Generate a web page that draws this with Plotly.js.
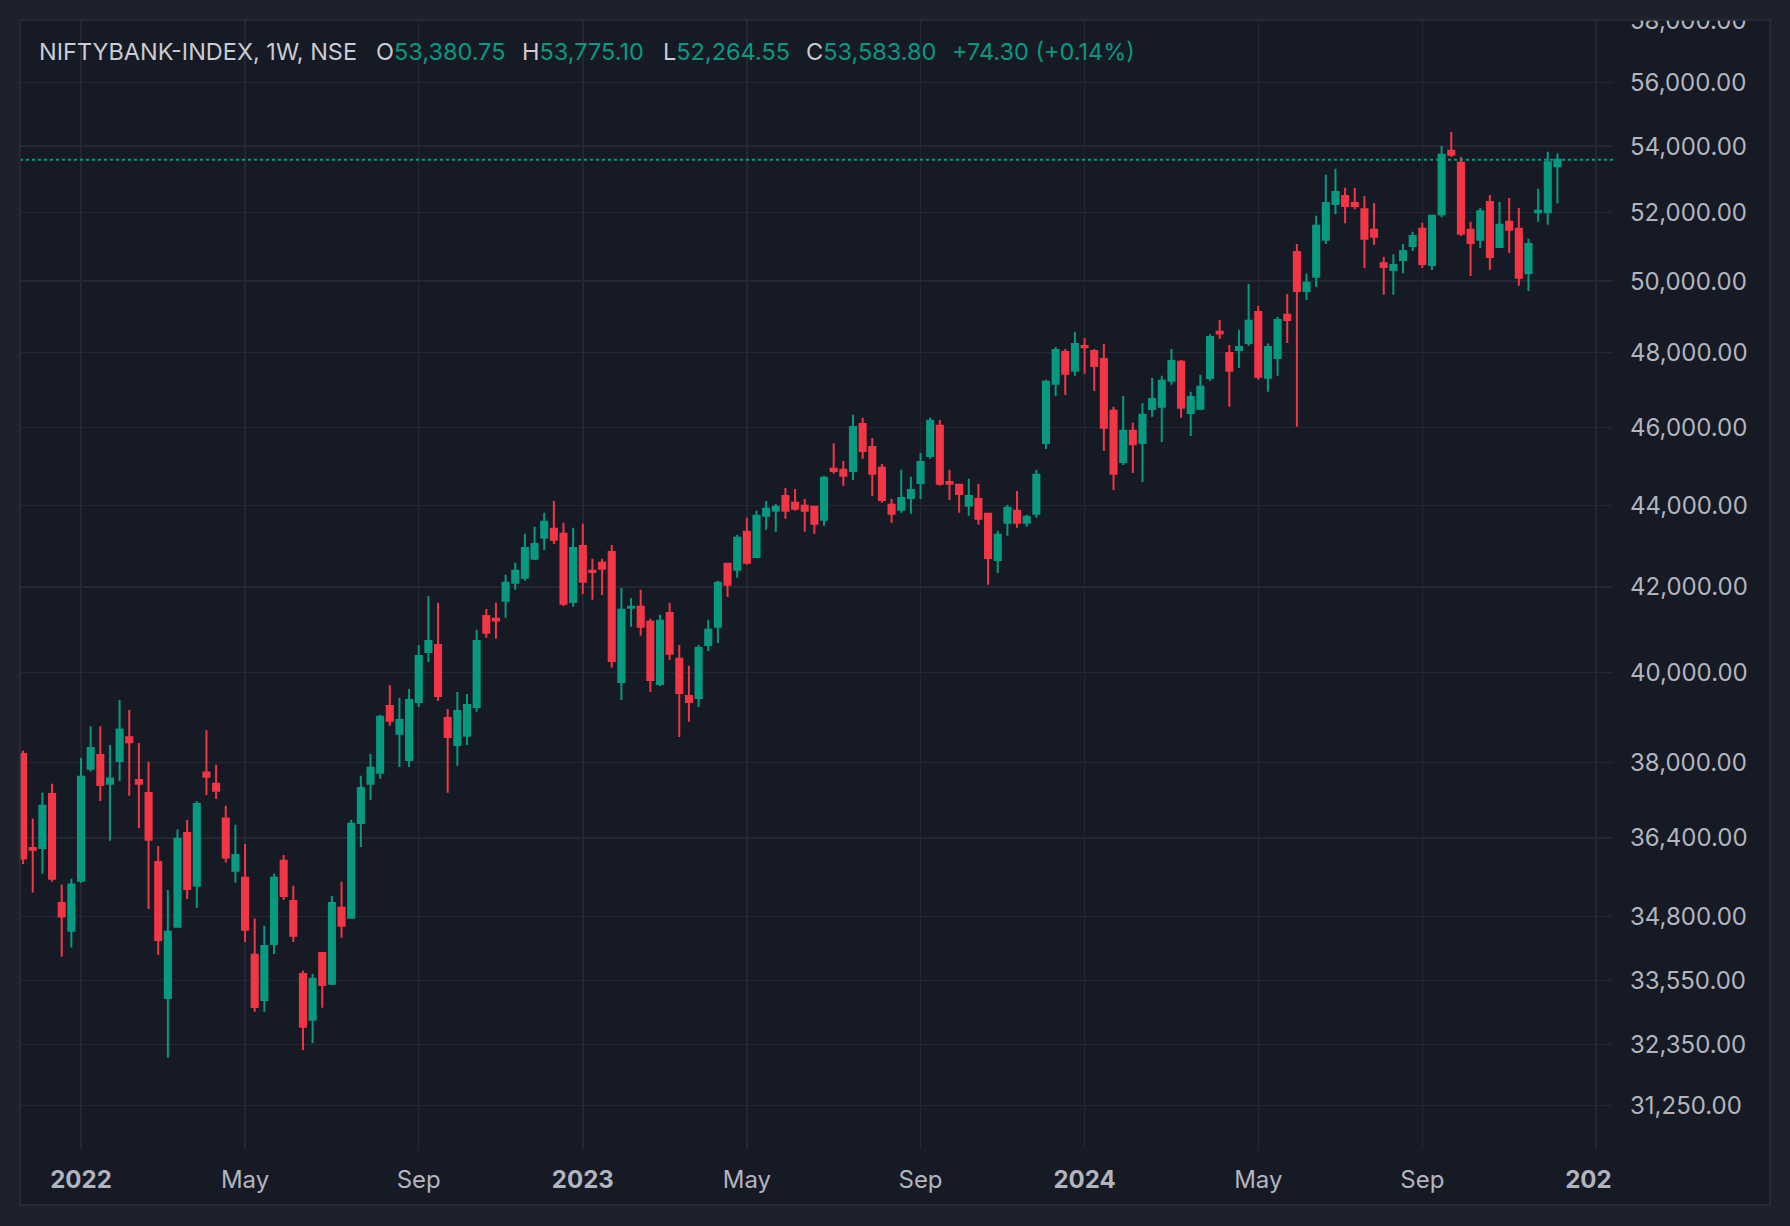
<!DOCTYPE html>
<html>
<head>
<meta charset="utf-8">
<script src="https://cdn.plot.ly/plotly-3.0.1.min.js"></script>
<style>
  html, body { margin: 0; padding: 0; background: #1e212b; }
  #chart { width: 1790px; height: 1226px; }
</style>
</head>
<body>
<div id="chart"></div>
<script>
// ---- Data (weekly bars, NIFTY BANK index) ----
const firstWeek = '2021-11-22';
const symbolText = 'NIFTYBANK-INDEX, 1W, NSE';

const openVals = [
  38180, 36190, 36190, 37320, 35070, 34520,
  35520, 37860, 38160, 37540, 38030, 38550, 37620, 37340, 35900, 33220,
  34600, 36500, 35415, 37780, 37540, 36800, 35720, 35580, 34050, 33185,
  34260, 35925, 35110, 33680, 32810, 34085, 33490, 34975, 34775, 36710,
  37540, 37775, 39240, 38625, 38050, 39330, 40470, 40630, 38975, 38375,
  38580, 39220, 41310, 41240, 41665, 42100, 42220, 42675, 43190, 43415,
  43290, 41640,
  42990, 42385, 42580, 42845, 39780, 41500, 41525, 41170, 39735, 41380,
  40310, 39465, 39420, 40630, 41055, 42555, 42410, 43340, 42720, 43740,
  43865, 44235, 44060, 43990, 43965, 43640, 44925, 44900, 44870, 46090,
  45485, 44950, 44010, 43890, 44185, 44565, 45255, 46040, 44590, 44515,
  43990, 44160, 43790, 42645, 43565, 43865, 43565, 43790, 45590, 47155,
  48020, 47505,
  48185, 48045, 47830, 46435, 45100, 45910, 45590, 46485, 46540, 47235,
  47750, 46380, 46487, 47315, 48575, 47990, 48075, 48265, 49130, 47320,
  47855, 49050, 50840, 49720, 50125, 51190, 52250, 52490, 52280, 52095,
  51485, 50515, 50320, 50605, 51010, 51515, 50460, 51945, 53855, 53490,
  51485, 51190, 52310, 50985, 51720, 51515, 50225, 52005, 52005, 53380.75
];
const highVals = [
  38250, 36800, 37345, 37540, 35440, 35560,
  38100, 38790, 38790, 38380, 39375, 39150, 38420, 38010, 36230, 35330,
  36570, 36775, 37170, 38700, 37950, 37070, 36670, 36270, 34760, 34620,
  35660, 36045, 35415, 33740, 33685, 34105, 35210, 35500, 36775, 37710,
  38180, 39045, 39710, 39420, 39620, 40630, 41780, 41620, 39175, 39555,
  39510, 40985, 41475, 41620, 42290, 42580, 43290, 43465, 43810, 44110,
  43565, 43440,
  43540, 42675, 42675, 43015, 41970, 41735, 41930, 41240, 41335, 41620,
  40630, 40150, 40630, 41220, 42145, 42560, 43265, 43690, 43865, 44110,
  44035, 44435, 44410, 44160, 43990, 44745, 45585, 45125, 46330, 46250,
  45720, 45050, 44160, 44900, 44720, 45330, 46250, 46195, 44900, 44520,
  44670, 44540, 43790, 43365, 44010, 44360, 43765, 44900, 47265, 48155,
  48100, 48575,
  48405, 48100, 48240, 46540, 46830, 46120, 46645, 47320, 47370, 48100,
  47800, 46940, 47400, 48510, 48905, 48210, 48630, 49915, 49300, 48250,
  48990, 49635, 51070, 50210, 51895, 53125, 53310, 52735, 52735, 52490,
  52280, 50690, 50775, 51070, 51425, 51690, 51925, 54005, 54445, 53670,
  51720, 52125, 52520, 52310, 52430, 52125, 51220, 52705, 53825, 53775.10
];
const lowVals = [
  35860, 35280, 35660, 35500, 34010, 34190,
  35480, 37800, 37170, 36340, 37600, 37280, 36600, 34950, 34050, 32110,
  34580, 35150, 34970, 37300, 37215, 35890, 35480, 34300, 32960, 32960,
  34065, 35130, 34300, 32250, 32380, 33035, 33470, 34380, 34755, 36210,
  37190, 37645, 38800, 37900, 37900, 39220, 40240, 39350, 37345, 37925,
  38375, 39110, 40795, 40775, 41265, 41930, 42145, 42650, 42890, 43040,
  41545, 41525,
  41830, 41690, 41805, 40105, 39375, 41055, 40845, 39555, 39690, 40285,
  38555, 38890, 39220, 40490, 40675, 41760, 42220, 42530, 42700, 43390,
  43340, 43665, 43860, 43340, 43290, 43490, 44795, 44490, 44640, 45180,
  44235, 44060, 43565, 43810, 43790, 44160, 45180, 44490, 44135, 43810,
  43740, 43515, 42050, 42335, 43240, 43440, 43465, 43690, 45435, 46830,
  46855, 47370,
  47425, 46965, 45380, 44385, 45025, 44820, 44590, 46275, 45615, 47130,
  46250, 45775, 46450, 47235, 48380, 46540, 47585, 48185, 47265, 46940,
  47370, 48265, 46015, 49465, 49835, 51070, 51945, 51680, 52095, 50370,
  51040, 49610, 49610, 50225, 50865, 50375, 50315, 51855, 53670, 51305,
  50145, 50955, 50315, 50955, 50810, 49865, 49720, 51720, 51630, 52264.55
];
const closeVals = [
  35970, 36150, 37070, 35560, 34800, 35440,
  37690, 38310, 37510, 37650, 38720, 38440, 37540, 36360, 34340, 34500,
  36380, 35350, 37110, 37690, 37390, 35990, 36045, 34540, 33050, 34220,
  35580, 35210, 34420, 32680, 33590, 33470, 35070, 34620, 36690, 37450,
  37880, 39000, 38910, 38930, 39375, 40375, 40725, 39465, 38555, 39130,
  39265, 40725, 40915, 41200, 42100, 42385, 42940, 43040, 43590, 43140,
  41595, 42940,
  42120, 42355, 42435, 40260, 41455, 41525, 41055, 39825, 41195, 40425,
  39530, 39330, 40560, 40985, 42100, 42050, 43190, 42580, 43740, 43915,
  43965, 43865, 43915, 43865, 43540, 44695, 44870, 44745, 46010, 45380,
  44795, 44135, 43790, 44185, 44385, 45100, 46170, 44540, 44540, 44285,
  44235, 43665, 42695, 43265, 43940, 43565, 43715, 44770, 47210, 48075,
  47425, 48240,
  48150, 47640, 45990, 44795, 45910, 45560, 46330, 46750, 47235, 47775,
  46515, 46805, 47075, 48430, 48525, 47505, 48155, 48880, 47345, 48155,
  48905, 48905, 49720, 49950, 51600, 52280, 52610, 52190, 52190, 51220,
  51280, 50405, 50460, 50865, 51305, 50490, 51900, 53735, 53735, 51365,
  51100, 52035, 50690, 51630, 51485, 50095, 51070, 52045, 53509.50, 53583.80
];

// x-axis tick positions (first weekly bar of each labelled period) and labels
const xTickDates = ['2022-01-03', '2022-05-02', '2022-09-05', '2023-01-02', '2023-05-01',
                    '2023-09-04', '2024-01-01', '2024-05-06', '2024-09-02', '2025-01-06'];
const xTickLabels = ['<b>2022</b>', 'May', 'Sep', '<b>2023</b>', 'May',
                     'Sep', '<b>2024</b>', 'May', 'Sep', '<b>2025</b>'];
// y-axis (price scale) tick values
const yTickVals = [31250, 32350, 33550, 34800, 36400, 38000, 40000, 42000,
                   44000, 46000, 48000, 50000, 52000, 54000, 56000, 58000];

// ---- Build chart ----
const weekDates = openVals.map((_, i) => {
  const d = new Date(Date.parse(firstWeek + 'T00:00:00Z') + i * 7 * 86400000);
  return d.toISOString().slice(0, 10);
});

const UP = '#089981', DOWN = '#f23645';
const BG = '#161a25', FRAME = '#1e212b', GRID = '#232733';
const FONT = 'Inter, "Noto Sans", Roboto, sans-serif';

const xRange = ['2021-11-19 18:00', '2025-01-18 07:40'];
const yRange = [Math.log10(30480), Math.log10(58028)];

const n = closeVals.length;
const lastClose = closeVals[n - 1];
const prevClose = closeVals[n - 2];
const chg = lastClose - prevClose;
const chgPct = chg / prevClose * 100;
const fmt = v => v.toLocaleString('en-US', {minimumFractionDigits: 2, maximumFractionDigits: 2});

const priceLine = {
  type: 'scatter', mode: 'lines',
  x: xRange, y: [lastClose, lastClose],
  line: {color: UP, width: 2, dash: 'dot'},
  hoverinfo: 'skip', showlegend: false
};

const candles = {
  type: 'candlestick',
  x: weekDates,
  open: openVals, high: highVals, low: lowVals, close: closeVals,
  increasing: {line: {color: UP, width: 2}, fillcolor: UP},
  decreasing: {line: {color: DOWN, width: 2}, fillcolor: DOWN},
  whiskerwidth: 0,
  hoverinfo: 'skip', showlegend: false
};

// pixel -> paper helpers (plot area: x 20..1613, y 20..1149)
const L = 20, R = 1613, T = 20, B = 1149;
const px = v => (v - L) / (R - L);
const py = v => (B - v) / (B - T);

const grey = '#c9ccd3';
const hdrY = py(52);
function hdr(xpx, text) {
  return {xref: 'paper', yref: 'paper', x: px(xpx), y: hdrY, xanchor: 'left', yanchor: 'middle',
          text: text, showarrow: false, font: {family: FONT, size: 23.5, color: grey}};
}
const g = t => '<span style="color:' + UP + '">' + t + '</span>';
const annotations = [
  hdr(36.5, symbolText),
  hdr(374, 'O' + g(fmt(openVals[n - 1]))),
  hdr(520, 'H' + g(fmt(highVals[n - 1]))),
  hdr(661, 'L' + g(fmt(lowVals[n - 1]))),
  hdr(804, 'C' + g(fmt(closeVals[n - 1]))),
  hdr(950, g((chg >= 0 ? '+' : '') + fmt(chg) + ' (' + (chg >= 0 ? '+' : '') + chgPct.toFixed(2) + '%)'))
];

const shapes = [
  // inner dark panel
  {type: 'rect', xref: 'paper', yref: 'paper', layer: 'below',
   x0: px(20), x1: px(1770), y0: py(1205), y1: py(20),
   fillcolor: BG, line: {width: 0}},
  // top frame strip (clips the top price label)
  {type: 'rect', xref: 'paper', yref: 'paper', layer: 'above',
   x0: px(0), x1: px(1790), y0: py(20), y1: py(0),
   fillcolor: FRAME, line: {width: 0}},
  // clip time-axis label under the price scale
  {type: 'rect', xref: 'paper', yref: 'paper', layer: 'above',
   x0: px(1613), x1: px(1769.5), y0: py(1204.5), y1: py(1150),
   fillcolor: BG, line: {width: 0}},
  // panel border
  {type: 'rect', xref: 'paper', yref: 'paper', layer: 'above',
   x0: px(20), x1: px(1770), y0: py(1205), y1: py(20),
   fillcolor: 'rgba(0,0,0,0)', line: {color: '#2a2e39', width: 1.5}}
];

const layout = {
  width: 1790, height: 1226,
  margin: {l: L, r: 1790 - R, t: T, b: 1226 - B, pad: 0},
  paper_bgcolor: FRAME, plot_bgcolor: BG,
  font: {family: FONT, color: '#b2b5be', size: 24},
  showlegend: false,
  hovermode: false,
  boxgap: 0.37, boxgroupgap: 0,
  xaxis: {
    type: 'date', range: xRange,
    rangeslider: {visible: false},
    tickmode: 'array', tickvals: xTickDates, ticktext: xTickLabels,
    showgrid: true, gridcolor: GRID, gridwidth: 1.5,
    ticks: '', showline: false, zeroline: false,
    tickfont: {family: FONT, size: 24, color: '#b2b5be'},
    ticklabelstandoff: 14,
    fixedrange: true
  },
  yaxis: {
    type: 'log', side: 'right', range: yRange,
    tickmode: 'array', tickvals: yTickVals,
    ticktext: yTickVals.map(fmt),
    showgrid: true, gridcolor: GRID, gridwidth: 1.5,
    ticks: '', showline: false, zeroline: false,
    tickfont: {family: FONT, size: 24, color: '#b2b5be'},
    ticklabelstandoff: 16,
    fixedrange: true
  },
  annotations: annotations,
  shapes: shapes
};

Plotly.newPlot('chart', [priceLine, candles], layout, {staticPlot: true, displayModeBar: false});
</script>
</body>
</html>
